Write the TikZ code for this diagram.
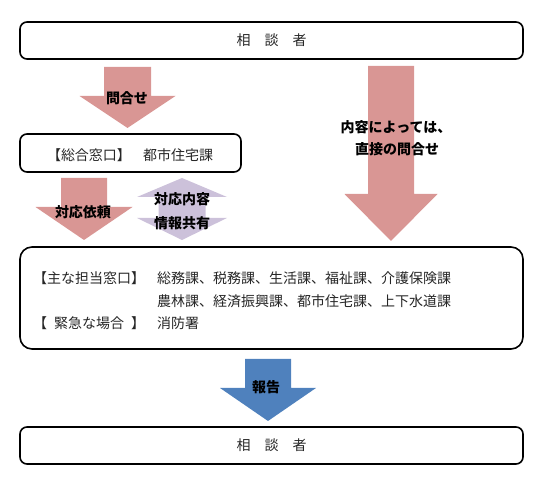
\documentclass[tikz,border=0pt]{standalone}
\usepackage{fontspec}
\newfontfamily\jp{Noto Sans CJK JP}
\definecolor{rspink}{HTML}{D99694}
\definecolor{rslav}{HTML}{CCC1DA}
\definecolor{rsblue}{HTML}{4F81BD}
% fill, cx, ytop, yhead, ytip, shaft half, head half
\newcommand{\rsDown}[7]{%
  \fill[#1] (#2-#6,#3) -- (#2+#6,#3) -- (#2+#6,#4) -- (#2+#7,#4) -- (#2,#5)
    -- (#2-#7,#4) -- (#2-#6,#4) -- cycle;}
\begin{document}
\begin{tikzpicture}[x=1pt,y=-1pt,
  box/.style={draw=black, line width=1.6pt, rounded corners=7pt, inner sep=0pt},
  lbl/.style={font=\jp\bfseries\fontsize{14}{16}\selectfont, inner sep=0pt, text=black},
  txt/.style={font=\jp\fontsize{14}{17}\selectfont, inner sep=0pt, text=black!85},
]
\useasboundingbox (0,0) rectangle (550,497);
% block arrows
\rsDown{rspink}{127.5}{67}{96}{128}{23.5}{48}
\rsDown{rspink}{84}{178}{207}{240}{23}{48.5}
\rsDown{rspink}{391}{66}{194}{241}{23}{46.5}
\rsDown{rsblue}{268}{359}{388}{421}{23}{48}
\fill[rslav] (182,178) -- (227,197) -- (205.5,197) -- (205.5,218) -- (227,218)
  -- (182,240) -- (137,218) -- (158.5,218) -- (158.5,197) -- (137,197) -- cycle;
% boxes
\node[box, txt, minimum width=503pt, minimum height=37pt] (top) at (271.5,40.5) {相　談　者};
\node[box, minimum width=221pt, minimum height=38pt] (sogo) at (130.5,153) {};
\node[box, rounded corners=12pt, minimum width=503pt, minimum height=102pt] (main) at (271.5,298) {};
\node[box, txt, minimum width=503pt, minimum height=37pt] (bottom) at (271.5,445.5) {相　談　者};
% box texts
\node[txt] (sogoa) at (89,155) {【総合窓口】};
\node[txt] (sogob) at (178,155) {都市住宅課};
\node[txt, anchor=west] (m1a) at (33,278) {【主な担当窓口】};
\node[txt, anchor=west] (m1b) at (157,278) {総務課、税務課、生活課、福祉課、介護保険課};
\node[txt, anchor=west] (m2b) at (157,301) {農林課、経済振興課、都市住宅課、上下水道課};
\node[txt, anchor=west] (m3a) at (33,323) {【\hspace{0.5em}緊急な場合\hspace{0.5em}】};
\node[txt, anchor=west] (m3b) at (157,323) {消防署};
% arrow labels
\node[lbl] (toi) at (127,98) {問合せ};
\node[lbl] (irai) at (83,212) {対応依頼};
\node[lbl] (naiyo) at (182,199) {対応内容};
\node[lbl] (kyoyu) at (182,223) {情報共有};
\node[lbl] (hokoku) at (266,387) {報告};
\node[lbl] (r1) at (396,127) {内容によっては、};
\node[lbl] (r2) at (397,149) {直接の問合せ};
\end{tikzpicture}
\end{document}
